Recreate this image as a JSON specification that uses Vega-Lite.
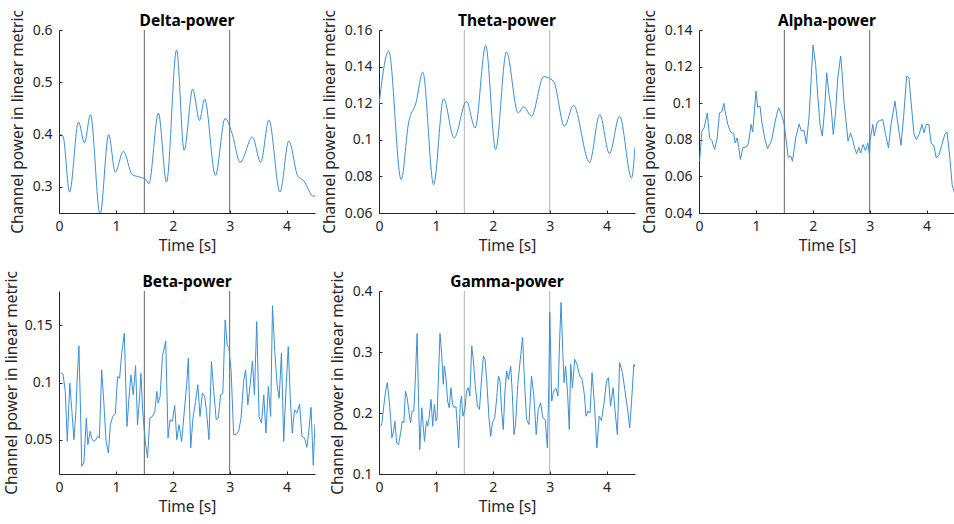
{
  "$schema": "https://vega.github.io/schema/vega-lite/v6.json",
  "padding": {"left": 4, "top": 9, "right": 0, "bottom": 5},
  "background": "white",
  "config": {
    "view": {"stroke": null},
    "font": "Noto Sans",
    "axis": {
      "labelFont": "Noto Sans", "labelFontSize": 14, "labelColor": "#262626",
      "titleFont": "Noto Sans", "titleFontSize": 15.5, "titleFontWeight": "normal", "titleColor": "#262626",
      "domainColor": "#262626", "tickColor": "#262626", "tickSize": -3, "grid": false,
      "labelFlush": false, "labelPadding": 9, "labelOverlap": false
    },
    "axisY": {"labelPadding": 10, "format": "~g"},
    "axisX": {"format": "d", "titlePadding": 5},
    "title": {"font": "Noto Sans", "fontSize": 15.5, "fontWeight": "bold", "color": "#000000", "offset": -19.5, "frame": "group"}
  },
  "datasets": {
    "marks": [{"t": 1.5}, {"t": 3}],
    "delta": [
      {"t":0,"v":0.401},{"t":0.07,"v":0.397},{"t":0.186,"v":0.29},{"t":0.343,"v":0.424},{"t":0.448,"v":0.384},{"t":0.553,"v":0.438},{"t":0.722,"v":0.247},{"t":0.873,"v":0.40},{"t":0.99,"v":0.328},{"t":1.13,"v":0.368},{"t":1.29,"v":0.323},{"t":1.41,"v":0.319},{"t":1.525,"v":0.314},{"t":1.58,"v":0.306},{"t":1.747,"v":0.441},{"t":1.89,"v":0.309},{"t":2.067,"v":0.562},{"t":2.2,"v":0.370},{"t":2.35,"v":0.487},{"t":2.47,"v":0.427},{"t":2.56,"v":0.468},{"t":2.75,"v":0.322},{"t":2.92,"v":0.431},{"t":3.04,"v":0.403},{"t":3.185,"v":0.347},{"t":3.40,"v":0.395},{"t":3.546,"v":0.347},{"t":3.69,"v":0.428},{"t":3.884,"v":0.290},{"t":4.04,"v":0.388},{"t":4.2,"v":0.320},{"t":4.29,"v":0.313},{"t":4.48,"v":0.281},{"t":4.5,"v":0.285}
    ],
    "theta": [
      {"t":0,"v":0.119},{"t":0.17,"v":0.1485},{"t":0.39,"v":0.0782},{"t":0.52,"v":0.1093},{"t":0.65,"v":0.1202},{"t":0.77,"v":0.137},{"t":0.96,"v":0.0755},{"t":1.135,"v":0.1224},{"t":1.32,"v":0.101},{"t":1.537,"v":0.121},{"t":1.69,"v":0.1065},{"t":1.875,"v":0.1516},{"t":2.05,"v":0.0947},{"t":2.24,"v":0.148},{"t":2.445,"v":0.1147},{"t":2.545,"v":0.118},{"t":2.68,"v":0.1129},{"t":2.894,"v":0.1345},{"t":3.068,"v":0.132},{"t":3.26,"v":0.1074},{"t":3.42,"v":0.1188},{"t":3.70,"v":0.0877},{"t":3.88,"v":0.1138},{"t":4.05,"v":0.0925},{"t":4.23,"v":0.1129},{"t":4.44,"v":0.0792},{"t":4.5,"v":0.096}
    ],
    "alpha": [
      {"t":0.01,"v":0.0683},{"t":0.05,"v":0.0847},{"t":0.09,"v":0.0865},{"t":0.146,"v":0.0947},{"t":0.186,"v":0.0811},{"t":0.227,"v":0.0796},{"t":0.274,"v":0.0747},{"t":0.32,"v":0.081},{"t":0.36,"v":0.0947},{"t":0.40,"v":0.0953},{"t":0.437,"v":0.0999},{"t":0.46,"v":0.0956},{"t":0.507,"v":0.0884},{"t":0.554,"v":0.0843},{"t":0.612,"v":0.0832},{"t":0.635,"v":0.0783},{"t":0.67,"v":0.081},{"t":0.70,"v":0.0759},{"t":0.728,"v":0.0692},{"t":0.77,"v":0.0756},{"t":0.827,"v":0.0761},{"t":0.868,"v":0.0778},{"t":0.915,"v":0.0884},{"t":0.944,"v":0.0843},{"t":1.002,"v":0.1066},{"t":1.031,"v":0.0978},{"t":1.072,"v":0.0984},{"t":1.107,"v":0.0893},{"t":1.16,"v":0.0801},{"t":1.206,"v":0.0752},{"t":1.276,"v":0.0796},{"t":1.34,"v":0.0902},{"t":1.398,"v":0.0975},{"t":1.45,"v":0.0938},{"t":1.498,"v":0.0884},{"t":1.527,"v":0.081},{"t":1.568,"v":0.0705},{"t":1.614,"v":0.071},{"t":1.643,"v":0.0683},{"t":1.70,"v":0.081},{"t":1.76,"v":0.0887},{"t":1.80,"v":0.0847},{"t":1.847,"v":0.0851},{"t":1.888,"v":0.0778},{"t":1.935,"v":0.0929},{"t":2.005,"v":0.1318},{"t":2.05,"v":0.1212},{"t":2.09,"v":0.103},{"t":2.127,"v":0.0884},{"t":2.168,"v":0.082},{"t":2.21,"v":0.0975},{"t":2.245,"v":0.1166},{"t":2.285,"v":0.1048},{"t":2.326,"v":0.0966},{"t":2.36,"v":0.0829},{"t":2.40,"v":0.0947},{"t":2.44,"v":0.1139},{"t":2.49,"v":0.1258},{"t":2.518,"v":0.1157},{"t":2.547,"v":0.1011},{"t":2.576,"v":0.0929},{"t":2.62,"v":0.0792},{"t":2.664,"v":0.0838},{"t":2.70,"v":0.0801},{"t":2.735,"v":0.0756},{"t":2.77,"v":0.0723},{"t":2.81,"v":0.0759},{"t":2.84,"v":0.0728},{"t":2.886,"v":0.0774},{"t":2.926,"v":0.0741},{"t":2.967,"v":0.0783},{"t":2.996,"v":0.0719},{"t":3.01,"v":0.0801},{"t":3.055,"v":0.0884},{"t":3.08,"v":0.082},{"t":3.13,"v":0.0893},{"t":3.18,"v":0.0905},{"t":3.23,"v":0.0911},{"t":3.28,"v":0.0829},{"t":3.33,"v":0.0756},{"t":3.375,"v":0.0884},{"t":3.445,"v":0.1011},{"t":3.49,"v":0.0902},{"t":3.55,"v":0.0770},{"t":3.595,"v":0.092},{"t":3.65,"v":0.1148},{"t":3.69,"v":0.1139},{"t":3.74,"v":0.0966},{"t":3.78,"v":0.0829},{"t":3.82,"v":0.0801},{"t":3.868,"v":0.0829},{"t":3.92,"v":0.0884},{"t":3.955,"v":0.0838},{"t":3.996,"v":0.0884},{"t":4.04,"v":0.0884},{"t":4.08,"v":0.0783},{"t":4.13,"v":0.0765},{"t":4.17,"v":0.0701},{"t":4.22,"v":0.0719},{"t":4.27,"v":0.0774},{"t":4.32,"v":0.0829},{"t":4.36,"v":0.0843},{"t":4.41,"v":0.0701},{"t":4.45,"v":0.0555},{"t":4.5,"v":0.05}
    ],
    "beta": [
      {"t":0.03,"v":0.1081},{"t":0.07,"v":0.1073},{"t":0.11,"v":0.0922},{"t":0.146,"v":0.0485},{"t":0.19,"v":0.0994},{"t":0.227,"v":0.0747},{"t":0.262,"v":0.05},{"t":0.297,"v":0.0747},{"t":0.32,"v":0.1038},{"t":0.35,"v":0.132},{"t":0.38,"v":0.0718},{"t":0.40,"v":0.0267},{"t":0.437,"v":0.0297},{"t":0.48,"v":0.0689},{"t":0.507,"v":0.0456},{"t":0.548,"v":0.0573},{"t":0.577,"v":0.0509},{"t":0.61,"v":0.0485},{"t":0.647,"v":0.05},{"t":0.68,"v":0.0529},{"t":0.71,"v":0.0515},{"t":0.75,"v":0.111},{"t":0.787,"v":0.0834},{"t":0.828,"v":0.0485},{"t":0.868,"v":0.0384},{"t":0.903,"v":0.0631},{"t":0.944,"v":0.0703},{"t":0.99,"v":0.0724},{"t":1.03,"v":0.1052},{"t":1.066,"v":0.1038},{"t":1.10,"v":0.1241},{"t":1.148,"v":0.143},{"t":1.195,"v":0.0616},{"t":1.23,"v":0.0863},{"t":1.265,"v":0.1067},{"t":1.305,"v":0.0892},{"t":1.346,"v":0.1148},{"t":1.38,"v":0.0631},{"t":1.416,"v":0.0863},{"t":1.44,"v":0.1081},{"t":1.47,"v":0.0762},{"t":1.50,"v":0.0573},{"t":1.527,"v":0.0442},{"t":1.556,"v":0.034},{"t":1.597,"v":0.0689},{"t":1.643,"v":0.0703},{"t":1.684,"v":0.0747},{"t":1.72,"v":0.0922},{"t":1.742,"v":0.082},{"t":1.777,"v":0.0878},{"t":1.818,"v":0.1227},{"t":1.876,"v":0.1363},{"t":1.917,"v":0.0515},{"t":1.952,"v":0.0674},{"t":1.993,"v":0.066},{"t":2.034,"v":0.08},{"t":2.07,"v":0.05},{"t":2.11,"v":0.0631},{"t":2.156,"v":0.0485},{"t":2.197,"v":0.0718},{"t":2.244,"v":0.098},{"t":2.273,"v":0.1212},{"t":2.315,"v":0.0427},{"t":2.355,"v":0.0689},{"t":2.40,"v":0.0834},{"t":2.44,"v":0.098},{"t":2.478,"v":0.0703},{"t":2.52,"v":0.0907},{"t":2.56,"v":0.0878},{"t":2.594,"v":0.0747},{"t":2.636,"v":0.05},{"t":2.68,"v":0.1183},{"t":2.72,"v":0.0922},{"t":2.764,"v":0.0674},{"t":2.80,"v":0.0689},{"t":2.84,"v":0.0892},{"t":2.88,"v":0.0907},{"t":2.921,"v":0.1547},{"t":2.956,"v":0.1328},{"t":2.985,"v":0.1305},{"t":3.026,"v":0.1096},{"t":3.07,"v":0.0544},{"t":3.11,"v":0.0544},{"t":3.158,"v":0.0573},{"t":3.20,"v":0.0689},{"t":3.245,"v":0.1009},{"t":3.28,"v":0.111},{"t":3.32,"v":0.0805},{"t":3.36,"v":0.098},{"t":3.40,"v":0.1189},{"t":3.435,"v":0.0892},{"t":3.476,"v":0.1532},{"t":3.517,"v":0.0703},{"t":3.56,"v":0.0645},{"t":3.60,"v":0.0892},{"t":3.637,"v":0.0558},{"t":3.68,"v":0.0965},{"t":3.72,"v":0.0703},{"t":3.753,"v":0.1672},{"t":3.793,"v":0.127},{"t":3.834,"v":0.098},{"t":3.87,"v":0.0863},{"t":3.91,"v":0.1256},{"t":3.95,"v":0.0485},{"t":3.985,"v":0.0892},{"t":4.03,"v":0.1314},{"t":4.066,"v":0.0863},{"t":4.10,"v":0.0558},{"t":4.14,"v":0.0762},{"t":4.18,"v":0.0732},{"t":4.23,"v":0.0811},{"t":4.27,"v":0.0529},{"t":4.316,"v":0.0515},{"t":4.357,"v":0.0433},{"t":4.39,"v":0.0573},{"t":4.43,"v":0.0782},{"t":4.47,"v":0.0276},{"t":4.5,"v":0.064}
    ],
    "gamma": [
      {"t":0.03,"v":0.1784},{"t":0.052,"v":0.1839},{"t":0.087,"v":0.214},{"t":0.117,"v":0.236},{"t":0.146,"v":0.2497},{"t":0.175,"v":0.225},{"t":0.204,"v":0.1921},{"t":0.227,"v":0.1592},{"t":0.256,"v":0.1702},{"t":0.28,"v":0.1866},{"t":0.31,"v":0.151},{"t":0.344,"v":0.1482},{"t":0.38,"v":0.1674},{"t":0.408,"v":0.1866},{"t":0.437,"v":0.1839},{"t":0.466,"v":0.236},{"t":0.495,"v":0.225},{"t":0.524,"v":0.2031},{"t":0.554,"v":0.1839},{"t":0.583,"v":0.2031},{"t":0.612,"v":0.2031},{"t":0.635,"v":0.247},{"t":0.67,"v":0.3303},{"t":0.693,"v":0.2305},{"t":0.717,"v":0.14},{"t":0.752,"v":0.2086},{"t":0.775,"v":0.1811},{"t":0.80,"v":0.1537},{"t":0.833,"v":0.1866},{"t":0.857,"v":0.1784},{"t":0.88,"v":0.1921},{"t":0.915,"v":0.2223},{"t":0.944,"v":0.1784},{"t":0.973,"v":0.214},{"t":1.002,"v":0.1866},{"t":1.02,"v":0.1921},{"t":1.072,"v":0.3303},{"t":1.10,"v":0.2991},{"t":1.13,"v":0.247},{"t":1.148,"v":0.2771},{"t":1.177,"v":0.2579},{"t":1.206,"v":0.2195},{"t":1.235,"v":0.2086},{"t":1.265,"v":0.2415},{"t":1.294,"v":0.214},{"t":1.323,"v":0.2086},{"t":1.352,"v":0.2113},{"t":1.38,"v":0.1756},{"t":1.40,"v":0.1427},{"t":1.428,"v":0.214},{"t":1.45,"v":0.2278},{"t":1.474,"v":0.1948},{"t":1.51,"v":0.2058},{"t":1.54,"v":0.236},{"t":1.568,"v":0.2415},{"t":1.597,"v":0.2278},{"t":1.63,"v":0.31},{"t":1.66,"v":0.2853},{"t":1.69,"v":0.247},{"t":1.73,"v":0.2113},{"t":1.766,"v":0.2058},{"t":1.80,"v":0.2524},{"t":1.836,"v":0.2936},{"t":1.865,"v":0.2881},{"t":1.894,"v":0.2524},{"t":1.935,"v":0.1894},{"t":1.964,"v":0.1619},{"t":1.993,"v":0.1839},{"t":2.034,"v":0.1921},{"t":2.07,"v":0.225},{"t":2.10,"v":0.2607},{"t":2.127,"v":0.2524},{"t":2.156,"v":0.2031},{"t":2.185,"v":0.1729},{"t":2.214,"v":0.236},{"t":2.244,"v":0.2689},{"t":2.273,"v":0.2552},{"t":2.315,"v":0.2771},{"t":2.344,"v":0.2305},{"t":2.373,"v":0.1647},{"t":2.40,"v":0.1811},{"t":2.44,"v":0.247},{"t":2.49,"v":0.2936},{"t":2.524,"v":0.3238},{"t":2.56,"v":0.247},{"t":2.594,"v":0.1894},{"t":2.636,"v":0.1811},{"t":2.68,"v":0.2607},{"t":2.72,"v":0.2305},{"t":2.764,"v":0.1647},{"t":2.80,"v":0.2058},{"t":2.84,"v":0.2168},{"t":2.88,"v":0.1921},{"t":2.921,"v":0.1894},{"t":2.96,"v":0.1427},{"t":2.985,"v":0.247},{"t":3.002,"v":0.3649},{"t":3.036,"v":0.2195},{"t":3.07,"v":0.236},{"t":3.11,"v":0.2404},{"t":3.146,"v":0.2278},{"t":3.175,"v":0.3183},{"t":3.20,"v":0.3813},{"t":3.23,"v":0.3018},{"t":3.253,"v":0.2497},{"t":3.28,"v":0.2771},{"t":3.316,"v":0.2305},{"t":3.345,"v":0.1729},{"t":3.37,"v":0.2799},{"t":3.40,"v":0.2415},{"t":3.44,"v":0.2881},{"t":3.48,"v":0.2799},{"t":3.528,"v":0.2607},{"t":3.57,"v":0.2552},{"t":3.61,"v":0.2305},{"t":3.64,"v":0.1948},{"t":3.675,"v":0.2031},{"t":3.71,"v":0.2003},{"t":3.745,"v":0.2662},{"t":3.785,"v":0.2168},{"t":3.83,"v":0.1427},{"t":3.87,"v":0.1948},{"t":3.91,"v":0.1877},{"t":3.957,"v":0.2168},{"t":4.0,"v":0.2524},{"t":4.033,"v":0.2579},{"t":4.07,"v":0.2113},{"t":4.115,"v":0.2415},{"t":4.15,"v":0.2031},{"t":4.19,"v":0.1647},{"t":4.23,"v":0.2826},{"t":4.28,"v":0.2662},{"t":4.32,"v":0.2387},{"t":4.366,"v":0.2086},{"t":4.407,"v":0.1756},{"t":4.44,"v":0.2195},{"t":4.48,"v":0.2799},{"t":4.5,"v":0.275}
    ]
  },
  "columns": 3,
  "spacing": {"row": 78, "column": 64},
  "bounds": "flush",
  "concat": [
    {
      "title": "Delta-power", "width": 256, "height": 183,
      "layer": [
        {"data": {"name": "marks"}, "mark": {"type": "rule", "color": "#666666", "strokeWidth": 1}, "encoding": {"x": {"field": "t", "type": "quantitative"}}},
        {"data": {"name": "delta"}, "mark": {"type": "line", "color": "#3a8fd6", "strokeWidth": 1, "interpolate": "monotone", "clip": true},
          "encoding": {
            "x": {"field": "t", "type": "quantitative", "scale": {"domain": [0, 4.5], "nice": false}, "axis": {"values": [0,1,2,3,4], "title": "Time [s]"}},
            "y": {"field": "v", "type": "quantitative", "scale": {"domain": [0.25, 0.6], "nice": false, "zero": false}, "axis": {"values": [0.3,0.4,0.5,0.6], "title": "Channel power in linear metric", "minExtent": 30, "maxExtent": 30, "titlePadding": 3.5}}
          }}
      ]
    },
    {
      "title": "Theta-power", "width": 256, "height": 183,
      "layer": [
        {"data": {"name": "marks"}, "mark": {"type": "rule", "color": "#b3b3b3", "strokeWidth": 1}, "encoding": {"x": {"field": "t", "type": "quantitative"}}},
        {"data": {"name": "theta"}, "mark": {"type": "line", "color": "#3a8fd6", "strokeWidth": 1, "interpolate": "monotone", "clip": true},
          "encoding": {
            "x": {"field": "t", "type": "quantitative", "scale": {"domain": [0, 4.5], "nice": false}, "axis": {"values": [0,1,2,3,4], "title": "Time [s]"}},
            "y": {"field": "v", "type": "quantitative", "scale": {"domain": [0.06, 0.16], "nice": false, "zero": false}, "axis": {"values": [0.06,0.08,0.1,0.12,0.14,0.16], "title": "Channel power in linear metric", "minExtent": 30, "maxExtent": 30, "titlePadding": 12}}
          }}
      ]
    },
    {
      "title": "Alpha-power", "width": 256, "height": 183,
      "layer": [
        {"data": {"name": "marks"}, "mark": {"type": "rule", "color": "#666666", "strokeWidth": 1}, "encoding": {"x": {"field": "t", "type": "quantitative"}}},
        {"data": {"name": "alpha"}, "mark": {"type": "line", "color": "#3a8fd6", "strokeWidth": 1, "clip": true},
          "encoding": {
            "x": {"field": "t", "type": "quantitative", "scale": {"domain": [0, 4.5], "nice": false}, "axis": {"values": [0,1,2,3,4], "title": "Time [s]"}},
            "y": {"field": "v", "type": "quantitative", "scale": {"domain": [0.04, 0.14], "nice": false, "zero": false}, "axis": {"values": [0.04,0.06,0.08,0.1,0.12,0.14], "title": "Channel power in linear metric", "minExtent": 30, "maxExtent": 30, "titlePadding": 12}}
          }}
      ]
    },
    {
      "title": "Beta-power", "width": 256, "height": 183,
      "layer": [
        {"data": {"name": "marks"}, "mark": {"type": "rule", "color": "#666666", "strokeWidth": 1}, "encoding": {"x": {"field": "t", "type": "quantitative"}}},
        {"data": {"name": "beta"}, "mark": {"type": "line", "color": "#3a8fd6", "strokeWidth": 1, "clip": true},
          "encoding": {
            "x": {"field": "t", "type": "quantitative", "scale": {"domain": [0, 4.5], "nice": false}, "axis": {"values": [0,1,2,3,4], "title": "Time [s]"}},
            "y": {"field": "v", "type": "quantitative", "scale": {"domain": [0.02, 0.18], "nice": false, "zero": false}, "axis": {"values": [0.05,0.1,0.15], "title": "Channel power in linear metric", "minExtent": 30, "maxExtent": 30, "titlePadding": 10}}
          }}
      ]
    },
    {
      "title": "Gamma-power", "width": 256, "height": 183,
      "layer": [
        {"data": {"name": "marks"}, "mark": {"type": "rule", "color": "#b3b3b3", "strokeWidth": 1}, "encoding": {"x": {"field": "t", "type": "quantitative"}}},
        {"data": {"name": "gamma"}, "mark": {"type": "line", "color": "#3a8fd6", "strokeWidth": 1, "clip": true},
          "encoding": {
            "x": {"field": "t", "type": "quantitative", "scale": {"domain": [0, 4.5], "nice": false}, "axis": {"values": [0,1,2,3,4], "title": "Time [s]"}},
            "y": {"field": "v", "type": "quantitative", "scale": {"domain": [0.1, 0.4], "nice": false, "zero": false}, "axis": {"values": [0.1,0.2,0.3,0.4], "title": "Channel power in linear metric", "minExtent": 30, "maxExtent": 30, "titlePadding": 3.5}}
          }}
      ]
    }
  ]
}
